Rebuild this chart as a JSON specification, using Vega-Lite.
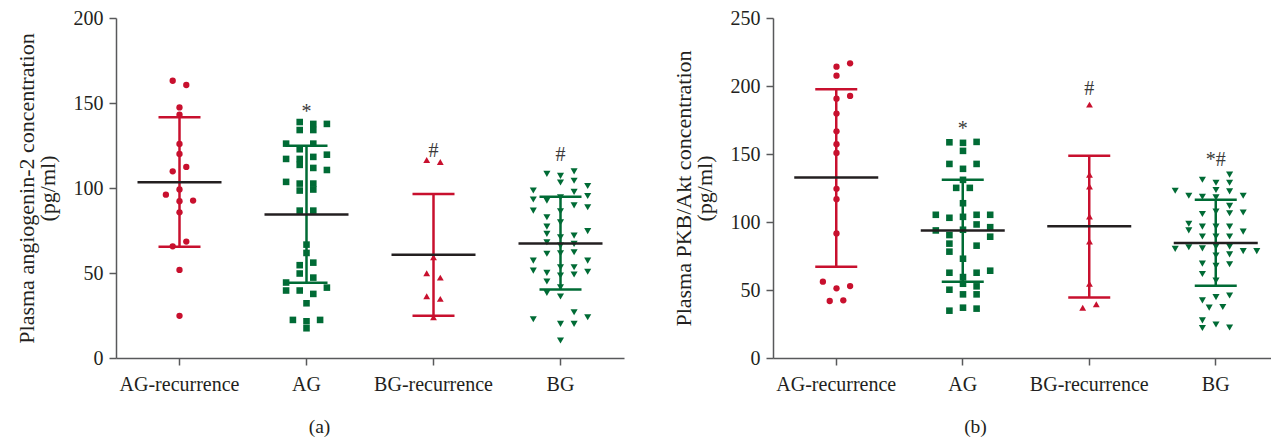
{
  "$schema": "https://vega.github.io/schema/vega-lite/v6.json",
  "background": "white",
  "padding": {"left": 15, "top": 8, "right": 0, "bottom": 2},
  "config": {
    "view": {"stroke": null},
    "font": "Liberation Serif",
    "axis": {
      "labelFont": "Liberation Serif", "titleFont": "Liberation Serif",
      "labelFontSize": 20, "titleFontSize": 22, "titleFontWeight": "normal",
      "labelColor": "#231f20", "titleColor": "#231f20",
      "domainColor": "#58595b", "tickColor": "#58595b",
      "domainWidth": 1.5, "tickWidth": 1.5, "tickSize": 7, "grid": false, "labelPadding": 5
    },
    "title": {"font": "Liberation Serif", "fontSize": 19.5, "fontWeight": "normal", "color": "#231f20"},
    "concat": {"spacing": 48}
  },
  "datasets": {
    "pointsA": [
      {"g": "AG-recurrence", "v": 163.1, "s": -1}, {"g": "AG-recurrence", "v": 160.6, "s": 1}, {"g": "AG-recurrence", "v": 147.4, "s": 0}, {"g": "AG-recurrence", "v": 143.1, "s": 0}, {"g": "AG-recurrence", "v": 125.9, "s": 0}, {"g": "AG-recurrence", "v": 120.0, "s": 0}, {"g": "AG-recurrence", "v": 112.4, "s": 1}, {"g": "AG-recurrence", "v": 109.8, "s": -1}, {"g": "AG-recurrence", "v": 99.1, "s": 0}, {"g": "AG-recurrence", "v": 96.1, "s": -2}, {"g": "AG-recurrence", "v": 92.2, "s": 0}, {"g": "AG-recurrence", "v": 92.6, "s": 2}, {"g": "AG-recurrence", "v": 85.7, "s": 0}, {"g": "AG-recurrence", "v": 68.5, "s": 1}, {"g": "AG-recurrence", "v": 65.7, "s": -1}, {"g": "AG-recurrence", "v": 51.8, "s": 0}, {"g": "AG-recurrence", "v": 24.8, "s": 0},
      {"g": "AG", "v": 138.8, "s": -1}, {"g": "AG", "v": 137.7, "s": 1}, {"g": "AG", "v": 137.7, "s": 3}, {"g": "AG", "v": 134.1, "s": -1}, {"g": "AG", "v": 134.1, "s": 1}, {"g": "AG", "v": 126.1, "s": -3}, {"g": "AG", "v": 126.1, "s": 1}, {"g": "AG", "v": 122.8, "s": -1}, {"g": "AG", "v": 117.1, "s": -3}, {"g": "AG", "v": 117.1, "s": -1}, {"g": "AG", "v": 118.3, "s": 1}, {"g": "AG", "v": 119.6, "s": 3}, {"g": "AG", "v": 113.6, "s": -1}, {"g": "AG", "v": 111.8, "s": 1}, {"g": "AG", "v": 110.6, "s": 3}, {"g": "AG", "v": 103.6, "s": -3}, {"g": "AG", "v": 102.6, "s": -1}, {"g": "AG", "v": 102.6, "s": 1}, {"g": "AG", "v": 98.5, "s": -1}, {"g": "AG", "v": 99.1, "s": 1}, {"g": "AG", "v": 86.7, "s": -1}, {"g": "AG", "v": 86.7, "s": 1}, {"g": "AG", "v": 66.7, "s": 0}, {"g": "AG", "v": 61.8, "s": 0}, {"g": "AG", "v": 54.6, "s": -1}, {"g": "AG", "v": 56.1, "s": 1}, {"g": "AG", "v": 49.7, "s": -1}, {"g": "AG", "v": 47.3, "s": 1}, {"g": "AG", "v": 44.4, "s": -3}, {"g": "AG", "v": 39.7, "s": -3}, {"g": "AG", "v": 39.7, "s": -1}, {"g": "AG", "v": 41.4, "s": 3}, {"g": "AG", "v": 37.7, "s": 1}, {"g": "AG", "v": 32.2, "s": 0}, {"g": "AG", "v": 22.4, "s": -2}, {"g": "AG", "v": 21.6, "s": 0}, {"g": "AG", "v": 22.4, "s": 2}, {"g": "AG", "v": 17.5, "s": 0},
      {"g": "BG-recurrence", "v": 116.5, "s": -1}, {"g": "BG-recurrence", "v": 115.3, "s": 1}, {"g": "BG-recurrence", "v": 59.3, "s": 0}, {"g": "BG-recurrence", "v": 49.9, "s": -1}, {"g": "BG-recurrence", "v": 47.3, "s": 1}, {"g": "BG-recurrence", "v": 36.3, "s": -1}, {"g": "BG-recurrence", "v": 34.8, "s": 1}, {"g": "BG-recurrence", "v": 24.0, "s": 0},
      {"g": "BG", "v": 108.3, "s": -2}, {"g": "BG", "v": 107.1, "s": 0}, {"g": "BG", "v": 109.8, "s": 2}, {"g": "BG", "v": 103.2, "s": 0}, {"g": "BG", "v": 104.3, "s": 2}, {"g": "BG", "v": 101.2, "s": 4}, {"g": "BG", "v": 98.5, "s": -4}, {"g": "BG", "v": 97.7, "s": 2}, {"g": "BG", "v": 93.2, "s": -4}, {"g": "BG", "v": 92.6, "s": -2}, {"g": "BG", "v": 94.5, "s": 0}, {"g": "BG", "v": 95.3, "s": 4}, {"g": "BG", "v": 89.8, "s": 2}, {"g": "BG", "v": 88.7, "s": 4}, {"g": "BG", "v": 86.7, "s": -4}, {"g": "BG", "v": 86.3, "s": 0}, {"g": "BG", "v": 82.8, "s": -2}, {"g": "BG", "v": 79.8, "s": 0}, {"g": "BG", "v": 77.3, "s": -2}, {"g": "BG", "v": 73.0, "s": -2}, {"g": "BG", "v": 74.6, "s": 4}, {"g": "BG", "v": 72.0, "s": 2}, {"g": "BG", "v": 71.0, "s": 0}, {"g": "BG", "v": 68.1, "s": -2}, {"g": "BG", "v": 67.1, "s": 2}, {"g": "BG", "v": 66.1, "s": 0}, {"g": "BG", "v": 61.6, "s": 0}, {"g": "BG", "v": 61.3, "s": -2}, {"g": "BG", "v": 62.2, "s": 2}, {"g": "BG", "v": 57.3, "s": -4}, {"g": "BG", "v": 57.3, "s": 4}, {"g": "BG", "v": 53.4, "s": 0}, {"g": "BG", "v": 53.4, "s": 2}, {"g": "BG", "v": 51.4, "s": -4}, {"g": "BG", "v": 50.7, "s": 4}, {"g": "BG", "v": 50.1, "s": -2}, {"g": "BG", "v": 49.1, "s": 2}, {"g": "BG", "v": 48.5, "s": 0}, {"g": "BG", "v": 45.0, "s": -2}, {"g": "BG", "v": 41.6, "s": 0}, {"g": "BG", "v": 38.3, "s": -2}, {"g": "BG", "v": 36.2, "s": 0}, {"g": "BG", "v": 26.9, "s": 2}, {"g": "BG", "v": 22.8, "s": -4}, {"g": "BG", "v": 20.1, "s": 2}, {"g": "BG", "v": 24.0, "s": 4}, {"g": "BG", "v": 20.1, "s": 0}, {"g": "BG", "v": 10.3, "s": 0}
    ],
    "statsA": [
      {"g": "AG-recurrence", "mean": 103.4, "lo": 65.4, "hi": 141.6},
      {"g": "AG", "mean": 84.4, "lo": 44.2, "hi": 124.9},
      {"g": "BG-recurrence", "mean": 60.7, "lo": 24.8, "hi": 96.5},
      {"g": "BG", "mean": 67.3, "lo": 40.3, "hi": 94.9}
    ],
    "annotA": [
      {"g": "AG", "v": 141, "t": "*"},
      {"g": "BG-recurrence", "v": 118, "t": "#"},
      {"g": "BG", "v": 116, "t": "#"}
    ],
    "pointsB": [
      {"g": "AG-recurrence", "v": 216.7, "s": 2}, {"g": "AG-recurrence", "v": 214.2, "s": 0}, {"g": "AG-recurrence", "v": 207.6, "s": 0}, {"g": "AG-recurrence", "v": 190.7, "s": 0}, {"g": "AG-recurrence", "v": 192.7, "s": 2}, {"g": "AG-recurrence", "v": 179.7, "s": 0}, {"g": "AG-recurrence", "v": 166.7, "s": 0}, {"g": "AG-recurrence", "v": 157.2, "s": 0}, {"g": "AG-recurrence", "v": 150.8, "s": 0}, {"g": "AG-recurrence", "v": 124.4, "s": 0}, {"g": "AG-recurrence", "v": 116.8, "s": 0}, {"g": "AG-recurrence", "v": 91.6, "s": 0}, {"g": "AG-recurrence", "v": 56.1, "s": -2}, {"g": "AG-recurrence", "v": 51.2, "s": 0}, {"g": "AG-recurrence", "v": 52.9, "s": 2}, {"g": "AG-recurrence", "v": 41.9, "s": -1}, {"g": "AG-recurrence", "v": 42.4, "s": 1},
      {"g": "AG", "v": 158.6, "s": -2}, {"g": "AG", "v": 158.2, "s": 0}, {"g": "AG", "v": 158.9, "s": 2}, {"g": "AG", "v": 152.3, "s": 0}, {"g": "AG", "v": 142.7, "s": -2}, {"g": "AG", "v": 142.7, "s": 2}, {"g": "AG", "v": 139.1, "s": 0}, {"g": "AG", "v": 131.0, "s": 0}, {"g": "AG", "v": 125.1, "s": -1}, {"g": "AG", "v": 125.1, "s": 1}, {"g": "AG", "v": 113.8, "s": 0}, {"g": "AG", "v": 105.3, "s": -4}, {"g": "AG", "v": 103.1, "s": -2}, {"g": "AG", "v": 103.8, "s": 0}, {"g": "AG", "v": 105.3, "s": 2}, {"g": "AG", "v": 105.3, "s": 4}, {"g": "AG", "v": 98.2, "s": 2}, {"g": "AG", "v": 96.2, "s": 4}, {"g": "AG", "v": 93.8, "s": -4}, {"g": "AG", "v": 94.3, "s": 0}, {"g": "AG", "v": 90.4, "s": -2}, {"g": "AG", "v": 89.2, "s": 4}, {"g": "AG", "v": 84.1, "s": -2}, {"g": "AG", "v": 82.6, "s": 2}, {"g": "AG", "v": 78.2, "s": -2}, {"g": "AG", "v": 73.0, "s": 0}, {"g": "AG", "v": 62.7, "s": -2}, {"g": "AG", "v": 62.7, "s": 2}, {"g": "AG", "v": 64.2, "s": 4}, {"g": "AG", "v": 59.5, "s": 0}, {"g": "AG", "v": 54.6, "s": 0}, {"g": "AG", "v": 52.7, "s": 2}, {"g": "AG", "v": 50.2, "s": -2}, {"g": "AG", "v": 46.8, "s": 0}, {"g": "AG", "v": 46.8, "s": 2}, {"g": "AG", "v": 34.8, "s": -2}, {"g": "AG", "v": 37.0, "s": 0}, {"g": "AG", "v": 36.3, "s": 2},
      {"g": "BG-recurrence", "v": 186.3, "s": 0}, {"g": "BG-recurrence", "v": 134.7, "s": 0}, {"g": "BG-recurrence", "v": 126.1, "s": 0}, {"g": "BG-recurrence", "v": 104.1, "s": 0}, {"g": "BG-recurrence", "v": 85.7, "s": 0}, {"g": "BG-recurrence", "v": 54.5, "s": 0}, {"g": "BG-recurrence", "v": 36.9, "s": -1}, {"g": "BG-recurrence", "v": 39.5, "s": 1},
      {"g": "BG", "v": 134.8, "s": 2}, {"g": "BG", "v": 131.1, "s": -2}, {"g": "BG", "v": 128.9, "s": 0}, {"g": "BG", "v": 128.9, "s": 2}, {"g": "BG", "v": 123.0, "s": -6}, {"g": "BG", "v": 123.5, "s": 0}, {"g": "BG", "v": 122.5, "s": 2}, {"g": "BG", "v": 119.3, "s": -4}, {"g": "BG", "v": 118.6, "s": -2}, {"g": "BG", "v": 119.3, "s": 4}, {"g": "BG", "v": 118.1, "s": 0}, {"g": "BG", "v": 111.9, "s": 2}, {"g": "BG", "v": 105.9, "s": -2}, {"g": "BG", "v": 107.6, "s": 0}, {"g": "BG", "v": 106.4, "s": 2}, {"g": "BG", "v": 107.0, "s": 4}, {"g": "BG", "v": 98.7, "s": -4}, {"g": "BG", "v": 93.8, "s": -4}, {"g": "BG", "v": 96.6, "s": -2}, {"g": "BG", "v": 96.6, "s": 0}, {"g": "BG", "v": 96.6, "s": 2}, {"g": "BG", "v": 92.9, "s": 4}, {"g": "BG", "v": 89.3, "s": -2}, {"g": "BG", "v": 89.3, "s": 0}, {"g": "BG", "v": 89.3, "s": 2}, {"g": "BG", "v": 80.2, "s": -6}, {"g": "BG", "v": 81.4, "s": -4}, {"g": "BG", "v": 80.6, "s": -2}, {"g": "BG", "v": 81.9, "s": 0}, {"g": "BG", "v": 81.9, "s": 2}, {"g": "BG", "v": 78.6, "s": 4}, {"g": "BG", "v": 78.6, "s": 6}, {"g": "BG", "v": 75.4, "s": 0}, {"g": "BG", "v": 76.2, "s": 2}, {"g": "BG", "v": 69.4, "s": -2}, {"g": "BG", "v": 67.7, "s": 0}, {"g": "BG", "v": 68.9, "s": 2}, {"g": "BG", "v": 61.8, "s": -2}, {"g": "BG", "v": 56.9, "s": 0}, {"g": "BG", "v": 42.4, "s": -2}, {"g": "BG", "v": 44.8, "s": 0}, {"g": "BG", "v": 46.0, "s": 2}, {"g": "BG", "v": 37.0, "s": -1}, {"g": "BG", "v": 37.5, "s": 1}, {"g": "BG", "v": 27.7, "s": -2}, {"g": "BG", "v": 22.1, "s": -2}, {"g": "BG", "v": 24.6, "s": 0}, {"g": "BG", "v": 22.4, "s": 2}
    ],
    "statsB": [
      {"g": "AG-recurrence", "mean": 132.7, "lo": 67.1, "hi": 197.6},
      {"g": "AG", "mean": 93.8, "lo": 56.0, "hi": 131.0},
      {"g": "BG-recurrence", "mean": 96.8, "lo": 44.4, "hi": 148.8},
      {"g": "BG", "mean": 84.5, "lo": 53.2, "hi": 116.3}
    ],
    "annotB": [
      {"g": "AG", "v": 163.7, "t": "*"},
      {"g": "BG-recurrence", "v": 193.7, "t": "#"},
      {"g": "BG", "v": 141.5, "t": "*#"}
    ]
  },
  "hconcat": [
    {
      "width": 508, "height": 340,
      "title": {"text": "(a)", "orient": "bottom", "anchor": "middle", "frame": "bounds", "offset": 24},
      "encoding": {
        "x": {"field": "g", "type": "nominal", "sort": ["AG-recurrence", "AG", "BG-recurrence", "BG"],
              "scale": {"type": "band", "paddingInner": 0, "paddingOuter": 0},
              "axis": {"title": null, "labelAngle": 0, "labelPadding": 9}}
      },
      "layer": [
        {
          "data": {"name": "pointsA"},
          "mark": {"type": "point", "filled": true, "opacity": 1},
          "encoding": {
            "xOffset": {"field": "s", "type": "quantitative", "scale": {"domain": [-9.34, 9.34], "range": [0, 127]}},
            "y": {"field": "v", "type": "quantitative", "scale": {"domain": [0, 200], "nice": false},
                  "axis": {"values": [0, 50, 100, 150, 200], "title": ["Plasma angiogenin-2 concentration", "(pg/ml)"], "titleLineHeight": 21, "titlePadding": 14, "labelPadding": 6}},
            "color": {"field": "g", "type": "nominal", "scale": {"domain": ["AG-recurrence", "AG", "BG-recurrence", "BG"], "range": ["#c8102e", "#006b35", "#c8102e", "#006b35"]}, "legend": null},
            "shape": {"field": "g", "type": "nominal", "scale": {"domain": ["AG-recurrence", "AG", "BG-recurrence", "BG"], "range": ["circle", "square", "triangle-up", "triangle-down"]}, "legend": null},
            "size": {"field": "g", "type": "nominal", "scale": {"domain": ["AG-recurrence", "AG", "BG-recurrence", "BG"], "range": [40, 50, 38, 38]}, "legend": null}
          }
        },
        {
          "data": {"name": "statsA"},
          "mark": {"type": "rule", "strokeWidth": 2.5, "opacity": 1},
          "encoding": {"y": {"field": "lo", "type": "quantitative"}, "y2": {"field": "hi"}, "color": {"field": "g", "type": "nominal", "legend": null}}
        },
        {
          "data": {"name": "statsA"},
          "mark": {"type": "tick", "size": 42, "thickness": 2.5, "opacity": 1},
          "encoding": {"y": {"field": "lo", "type": "quantitative"}, "color": {"field": "g", "type": "nominal", "legend": null}}
        },
        {
          "data": {"name": "statsA"},
          "mark": {"type": "tick", "size": 42, "thickness": 2.5, "opacity": 1},
          "encoding": {"y": {"field": "hi", "type": "quantitative"}, "color": {"field": "g", "type": "nominal", "legend": null}}
        },
        {
          "data": {"name": "statsA"},
          "mark": {"type": "tick", "size": 84, "thickness": 2.5, "color": "#231f20", "opacity": 1},
          "encoding": {"y": {"field": "mean", "type": "quantitative"}}
        },
        {
          "data": {"name": "annotA"},
          "mark": {"type": "text", "fontSize": 20, "baseline": "alphabetic", "color": "#3a3a3a", "font": "Liberation Serif"},
          "encoding": {"y": {"field": "v", "type": "quantitative"}, "text": {"field": "t"}}
        }
      ]
    },
    {
      "width": 506, "height": 340,
      "title": {"text": "(b)", "orient": "bottom", "anchor": "middle", "frame": "bounds", "offset": 24},
      "encoding": {
        "x": {"field": "g", "type": "nominal", "sort": ["AG-recurrence", "AG", "BG-recurrence", "BG"],
              "scale": {"type": "band", "paddingInner": 0, "paddingOuter": 0},
              "axis": {"title": null, "labelAngle": 0, "labelPadding": 9}}
      },
      "layer": [
        {
          "data": {"name": "pointsB"},
          "mark": {"type": "point", "filled": true, "opacity": 1},
          "encoding": {
            "xOffset": {"field": "s", "type": "quantitative", "scale": {"domain": [-9.34, 9.34], "range": [0, 126.5]}},
            "y": {"field": "v", "type": "quantitative", "scale": {"domain": [0, 250], "nice": false},
                  "axis": {"values": [0, 50, 100, 150, 200, 250], "title": ["Plasma PKB/Akt concentration", "(pg/ml)"], "titleLineHeight": 21, "titlePadding": 14, "labelPadding": 6}},
            "color": {"field": "g", "type": "nominal", "scale": {"domain": ["AG-recurrence", "AG", "BG-recurrence", "BG"], "range": ["#c8102e", "#006b35", "#c8102e", "#006b35"]}, "legend": null},
            "shape": {"field": "g", "type": "nominal", "scale": {"domain": ["AG-recurrence", "AG", "BG-recurrence", "BG"], "range": ["circle", "square", "triangle-up", "triangle-down"]}, "legend": null},
            "size": {"field": "g", "type": "nominal", "scale": {"domain": ["AG-recurrence", "AG", "BG-recurrence", "BG"], "range": [40, 50, 38, 38]}, "legend": null}
          }
        },
        {
          "data": {"name": "statsB"},
          "mark": {"type": "rule", "strokeWidth": 2.5, "opacity": 1},
          "encoding": {"y": {"field": "lo", "type": "quantitative"}, "y2": {"field": "hi"}, "color": {"field": "g", "type": "nominal", "legend": null}}
        },
        {
          "data": {"name": "statsB"},
          "mark": {"type": "tick", "size": 42, "thickness": 2.5, "opacity": 1},
          "encoding": {"y": {"field": "lo", "type": "quantitative"}, "color": {"field": "g", "type": "nominal", "legend": null}}
        },
        {
          "data": {"name": "statsB"},
          "mark": {"type": "tick", "size": 42, "thickness": 2.5, "opacity": 1},
          "encoding": {"y": {"field": "hi", "type": "quantitative"}, "color": {"field": "g", "type": "nominal", "legend": null}}
        },
        {
          "data": {"name": "statsB"},
          "mark": {"type": "tick", "size": 84, "thickness": 2.5, "color": "#231f20", "opacity": 1},
          "encoding": {"y": {"field": "mean", "type": "quantitative"}}
        },
        {
          "data": {"name": "annotB"},
          "mark": {"type": "text", "fontSize": 20, "baseline": "alphabetic", "color": "#3a3a3a", "font": "Liberation Serif"},
          "encoding": {"y": {"field": "v", "type": "quantitative"}, "text": {"field": "t"}}
        }
      ]
    }
  ]
}
